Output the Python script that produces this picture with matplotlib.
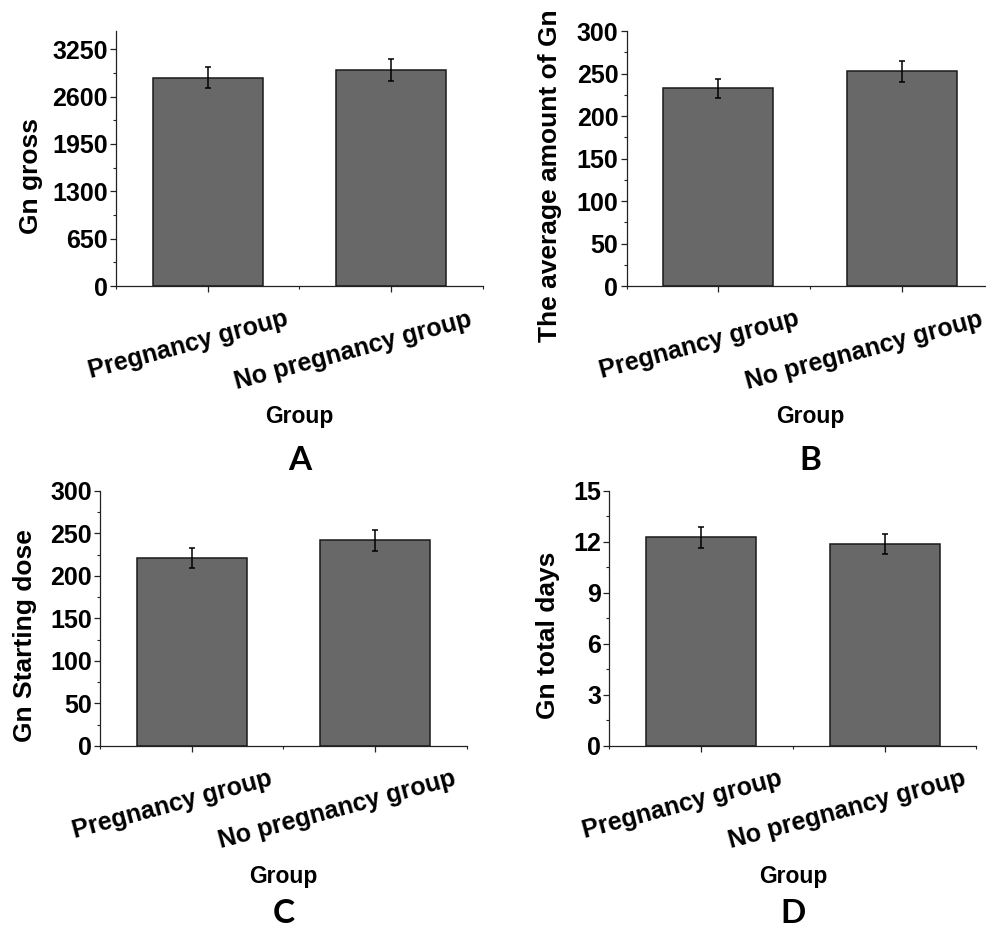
import numpy as np
import matplotlib.pyplot as plt
from matplotlib.ticker import MultipleLocator, FixedLocator
from matplotlib.transforms import ScaledTranslation

groups = ['Pregnancy group', 'No pregnancy group']

gross_mean = [2857, 2962]
gross_err = [145, 150]

avg_mean = [232.6, 252.6]
avg_err = [11.5, 12.4]

start_mean = [220.5, 242.0]
start_err = [11.7, 12.3]

days_mean = [12.26, 11.87]
days_err = [0.63, 0.59]

BAR_COLOR = '#686868'
FONT = 'Liberation Sans'


def draw_panel(fig, rect, means, errs, ylabel, ymax, major, label_x, letter, letter_y):
    ax = fig.add_axes(rect)
    x = np.arange(len(groups))
    ax.bar(x, means, width=0.6, color=BAR_COLOR, edgecolor='#1a1a1a', linewidth=1.1)
    ax.errorbar(x, means, yerr=errs, fmt='none', ecolor='black', elinewidth=1.1,
                capsize=2.3, capthick=1.1)

    ax.set_xlim(-0.5, 1.5)
    ax.set_ylim(0, ymax)
    for side in ['top', 'right']:
        ax.spines[side].set_visible(False)
    for side in ['left', 'bottom']:
        ax.spines[side].set_linewidth(0.9)
        ax.spines[side].set_color('#222222')

    ax.yaxis.set_major_locator(MultipleLocator(major))
    ax.yaxis.set_minor_locator(MultipleLocator(major / 2))
    ax.xaxis.set_major_locator(FixedLocator([0, 1]))
    ax.xaxis.set_minor_locator(FixedLocator([-0.5, 0.5, 1.5]))
    ax.tick_params(axis='both', which='major', length=4, width=0.9, color='#222222')
    ax.tick_params(axis='both', which='minor', length=2.5, width=0.8, color='#222222')
    ax.tick_params(axis='y', labelsize=18, pad=2)
    ax.set_xticklabels([])
    for lab in ax.get_yticklabels():
        lab.set_fontweight('bold')
        lab.set_fontfamily(FONT)

    # rotated group names, right-top anchored below each tick
    offset = ScaledTranslation(0.77, -0.21, fig.dpi_scale_trans)
    for xi, name in zip(x, groups):
        ax.text(xi, 0, name, transform=ax.get_xaxis_transform() + offset,
                rotation=15, rotation_mode='anchor', ha='right', va='top',
                fontsize=18, fontweight='bold', family=FONT)

    ax.set_ylabel(ylabel, fontsize=19, fontweight='bold', family=FONT)
    ax.yaxis.set_label_coords(label_x, 0.433)
    ax.text(0.5, -0.51, 'Group', transform=ax.transAxes, ha='center', va='center',
            fontsize=16.5, fontweight='bold', family=FONT)
    ax.text(0.5, letter_y, letter, transform=ax.transAxes, ha='center', va='baseline',
            fontsize=24, fontweight='bold', family='Lato')
    return ax


def main():
    fig = plt.figure(figsize=(9.86, 9.32), dpi=100)

    draw_panel(fig, [0.1176, 0.6931, 0.3722, 0.2736], gross_mean, gross_err,
               'Gn gross', 3500, 650, -0.20, 'A', -0.72)
    draw_panel(fig, [0.6356, 0.6931, 0.3722, 0.2736], avg_mean, avg_err,
               'The average amount of Gn', 300, 50, -0.176, 'B', -0.72)
    draw_panel(fig, [0.1014, 0.1996, 0.3722, 0.2739], start_mean, start_err,
               'Gn Starting dose', 300, 50, -0.171, 'C', -0.695)
    draw_panel(fig, [0.6180, 0.1996, 0.3722, 0.2739], days_mean, days_err,
               'Gn total days', 15, 3, -0.134, 'D', -0.695)

    fig.savefig('out.png', dpi=100, facecolor='white')


if __name__ == '__main__':
    main()
